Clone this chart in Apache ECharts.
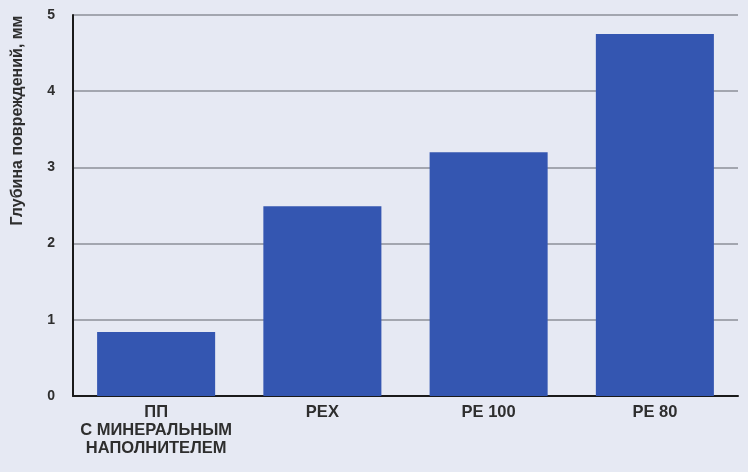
<!DOCTYPE html>
<html>
<head>
<meta charset="utf-8">
<script src="https://cdn.jsdelivr.net/npm/echarts@6/dist/echarts.min.js"></script>
<style>
  html, body { margin: 0; padding: 0; background: #e6e9f3; }
  #chart { width: 748px; height: 472px; }
</style>
</head>
<body>
<div id="chart"></div>
<script>
// Damage depth by pipe material
const categories = ['ПП\nС МИНЕРАЛЬНЫМ\nНАПОЛНИТЕЛЕМ', 'PEX', 'PE 100', 'PE 80'];
const depthValues = [0.84, 2.49, 3.2, 4.75];
const yTicks = [0, 1, 2, 3, 4, 5];

const chart = echarts.init(document.getElementById('chart'));
chart.setOption({
  backgroundColor: '#e6e9f3',
  animation: false,
  grid: { left: 73, right: 10, top: 15, bottom: 76, containLabel: false, outerBoundsMode: 'none' },
  xAxis: {
    type: 'category',
    data: categories,
    axisLine: { show: true, lineStyle: { color: '#1a1a1a', width: 2 } },
    axisTick: { show: false },
    axisLabel: {
      interval: 0,
      color: '#2e2e2e',
      fontFamily: 'Liberation Sans',
      fontWeight: 'bold',
      fontSize: 16.5,
      lineHeight: 18,
      margin: 7
    }
  },
  yAxis: {
    type: 'value',
    min: yTicks[0],
    max: yTicks[yTicks.length - 1],
    interval: 1,
    name: 'Глубина повреждений, мм',
    nameLocation: 'middle',
    nameGap: 47,
    nameRotate: 90,
    nameTextStyle: {
      color: '#2e2e2e',
      fontFamily: 'Liberation Sans',
      fontWeight: 'bold',
      fontSize: 16,
      padding: [0, 0, 0, 170]
    },
    axisLine: { show: true, lineStyle: { color: '#1a1a1a', width: 2 } },
    axisTick: { show: false },
    axisLabel: {
      color: '#2e2e2e',
      fontFamily: 'Liberation Sans',
      fontWeight: 'bold',
      fontSize: 14,
      margin: 18
    },
    splitLine: { lineStyle: { color: '#8d8f98', width: 1.5 } }
  },
  series: [{
    type: 'bar',
    data: depthValues,
    barWidth: '71%',
    itemStyle: { color: '#3456b1' }
  }]
});
</script>
</body>
</html>
